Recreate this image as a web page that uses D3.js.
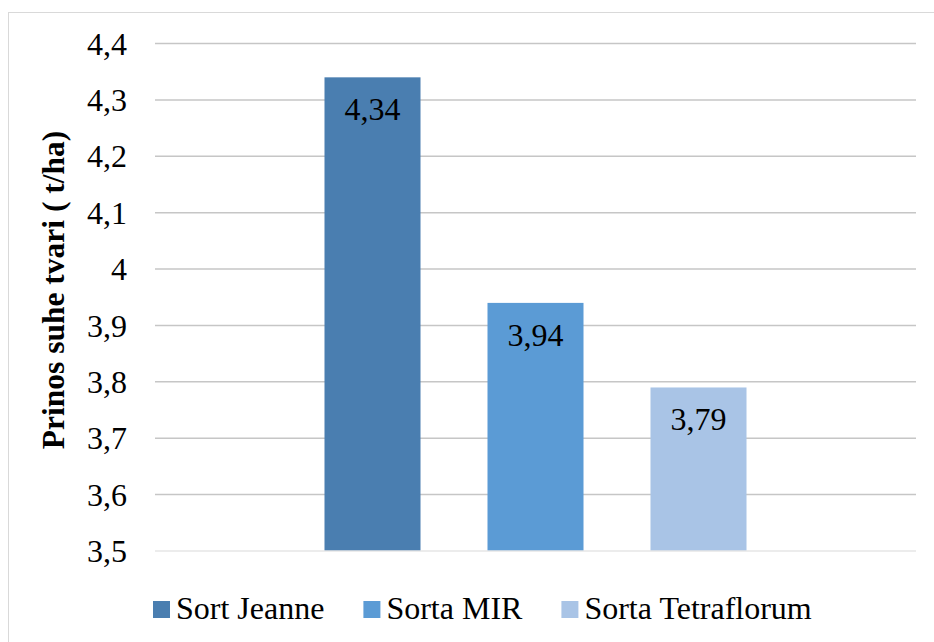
<!DOCTYPE html>
<html><head><meta charset="utf-8">
<script src="https://cdn.jsdelivr.net/npm/d3@7"></script>
<style>html,body{margin:0;padding:0;background:#fff;}svg{display:block;}</style>
</head><body>
<svg id="chart" width="934" height="642"></svg>
<script>
const seriesNames = ["Sort Jeanne", "Sorta MIR", "Sorta Tetraflorum"];
const seriesValues = [4.34, 3.94, 3.79];
const seriesColors = ["#4a7eb0", "#5b9bd5", "#a9c4e6"];
const yTicks = [3.5, 3.6, 3.7, 3.8, 3.9, 4.0, 4.1, 4.2, 4.3, 4.4];
const yTitle = "Prinos suhe tvari ( t/ha)";

const FONT = "Liberation Serif";
const FS = 32;
const svg = d3.select("#chart");
const fmt = v => String(+v.toFixed(2)).replace(".", ",");

// outer border
svg.append("rect").attr("x", 8.5).attr("y", 12.5).attr("width", 960).attr("height", 660)
  .attr("fill", "none").attr("stroke", "#d9d9d9").attr("stroke-width", 1);

const plotLeft = 155, plotRight = 916;
const y = d3.scaleLinear().domain([3.5, 4.4]).range([551, 43.5]);
const x = d3.scaleBand().domain(seriesNames).range([291, 780]).paddingInner(0.411).paddingOuter(0.2055);

// gridlines
svg.append("g").selectAll("line").data(yTicks.filter(t => t > 3.5)).join("line")
  .attr("x1", plotLeft).attr("x2", plotRight)
  .attr("y1", d => y(d)).attr("y2", d => y(d))
  .attr("stroke", "#c6c6c6").attr("stroke-width", 1.5);

// tick labels
svg.append("g").selectAll("text").data(yTicks).join("text")
  .attr("x", 127).attr("y", d => y(d)).attr("dy", "0.35em")
  .attr("text-anchor", "end").attr("font-size", FS).attr("font-family", FONT).attr("fill", "#000")
  .text(d => fmt(d));

// bars
svg.append("g").selectAll("rect").data(seriesNames).join("rect")
  .attr("x", d => x(d)).attr("width", x.bandwidth())
  .attr("y", (d, i) => y(seriesValues[i]))
  .attr("height", (d, i) => y(3.5) - y(seriesValues[i]))
  .attr("fill", (d, i) => seriesColors[i]);

// baseline
svg.append("line").attr("x1", plotLeft).attr("x2", plotRight)
  .attr("y1", y(3.5)).attr("y2", y(3.5))
  .attr("stroke", "#e6e6e6").attr("stroke-width", 1.5);

// data labels
svg.append("g").selectAll("text").data(seriesNames).join("text")
  .attr("x", d => x(d) + x.bandwidth() / 2)
  .attr("y", (d, i) => y(seriesValues[i]) + 43)
  .attr("text-anchor", "middle").attr("font-size", FS).attr("font-family", FONT).attr("fill", "#000")
  .text((d, i) => fmt(seriesValues[i]));

// y title
svg.append("text").attr("transform", "translate(64,290) rotate(-90)")
  .attr("text-anchor", "middle").attr("font-size", 31.5).attr("font-weight", "bold").attr("font-family", FONT)
  .text(yTitle);

// legend
const lg = svg.append("g");
let lx = 153;
seriesNames.forEach((name, i) => {
  lg.append("rect").attr("x", lx).attr("y", 601).attr("width", 17).attr("height", 17).attr("fill", seriesColors[i]);
  const t = lg.append("text").attr("x", lx + 23).attr("y", 619).attr("font-size", FS).attr("font-family", FONT).attr("fill", "#000").text(name);
  const w = t.node().getComputedTextLength();
  lx = lx + 23 + w + 39;
});
</script>
</body></html>
